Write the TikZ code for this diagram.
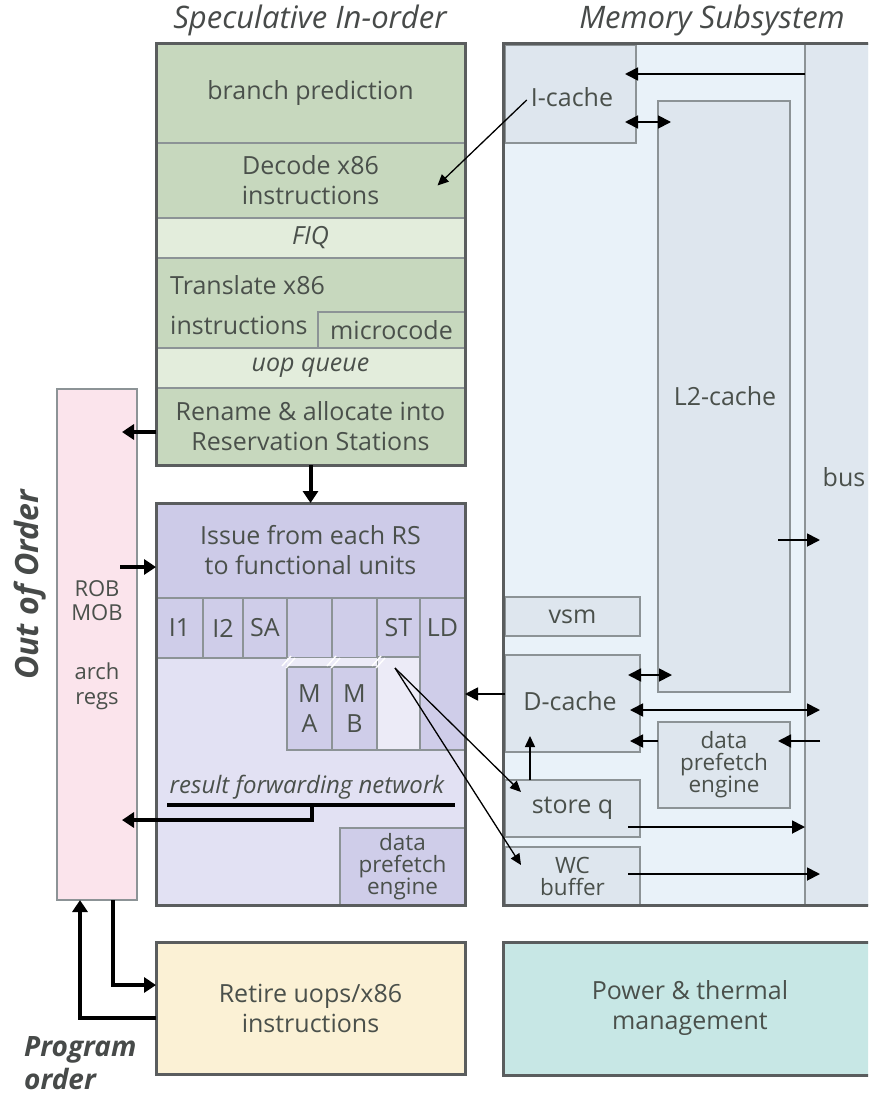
\documentclass[tikz,border=0pt]{standalone}
\usepackage{fontspec}
\setmainfont{Open Sans}
\usetikzlibrary{arrows.meta,calc}
\definecolor{grnA}{HTML}{C7D8BE}
\definecolor{grnB}{HTML}{E3EDDC}
\definecolor{purA}{HTML}{CDCBE8}
\definecolor{purB}{HTML}{E2E1F3}
\definecolor{purC}{HTML}{CFCDE9}
\definecolor{purD}{HTML}{ECEBF7}
\definecolor{pinkA}{HTML}{FBE4EC}
\definecolor{memA}{HTML}{E9F2F9}
\definecolor{memB}{HTML}{DEE6EE}
\definecolor{busC}{HTML}{DFE7EF}
\definecolor{retA}{HTML}{FBF1D5}
\definecolor{powA}{HTML}{C7E7E5}
\definecolor{dk}{HTML}{5A5D5E}
\definecolor{thinb}{HTML}{8C9396}
\definecolor{txt}{HTML}{4A504B}
\definecolor{ttlc}{HTML}{474A49}
\newcommand\rbox[7]{\node[#1,anchor=north west,minimum width={#4-#2},minimum height={#5-#3}] (#6) at (#2,#3) {#7};}
\tikzset{
  box/.style={draw=thinb,line width=1.2pt,inner sep=0pt,outer sep=0pt,font=\fontsize{25}{30}\selectfont,text=txt,align=center},
  outerb/.style={draw=dk,line width=3pt,inner sep=0pt,outer sep=0pt},
  lbl/.style={font=\fontsize{25}{30}\selectfont,text=txt,align=center,inner sep=0pt},
  smfont/.style={font=\fontsize{22.5}{22}\selectfont},
  ttl/.style={font=\fontsize{31}{36}\selectfont\itshape,text=ttlc,inner sep=0pt},
  thk/.style={line width=4pt,-{Triangle[length=12pt,width=15pt]}},
  thkl/.style={line width=4pt},
  marr/.style={line width=1.8pt,-{Triangle[length=13pt,width=13pt]}},
  mbi/.style={line width=1.8pt,{Triangle[length=13pt,width=13pt]}-{Triangle[length=13pt,width=13pt]}},
  tarr/.style={line width=1.3pt,-{Triangle[length=11pt,width=10pt]}},
}
\begin{document}
\begin{tikzpicture}[x=1pt,y=-1pt]
\useasboundingbox (0,0) rectangle (868,1099);
\fill[white] (0,0) rectangle (868,1099);
\clip (0,0) rectangle (868,1099);

% titles
\node[ttl] (t1) at (310,20) {Speculative In-order};
\node[ttl] (t2) at (712,20) {Memory Subsystem};

% ---------- speculative in-order (green) ----------
\rbox{box,fill=grnA}{156}{44}{465}{143}{bp}{branch prediction}
\rbox{box,fill=grnA}{156}{143}{465}{218}{dec}{Decode x86\\instructions}
\rbox{box,fill=grnB,font=\fontsize{25}{30}\selectfont\itshape}{156}{218}{465}{258}{fiq}{FIQ}
\rbox{box,fill=grnA}{156}{258}{465}{348}{trans}{}
\node[lbl,anchor=west] (tr1) at (170,285) {Translate x86};
\node[lbl,anchor=west] (tr2) at (170,325) {instructions};
\rbox{box,fill=grnA}{318}{312}{465}{348}{micro}{microcode}
\rbox{box,fill=grnB,font=\fontsize{25}{30}\selectfont\itshape}{156}{348}{465}{388}{uop}{uop queue}
\rbox{box,fill=grnA}{156}{388}{465}{465}{ren}{Rename \& allocate into\\Reservation Stations}
\rbox{outerb}{156}{44}{465}{465}{spec}{}

% ---------- out of order (purple) ----------
\rbox{box,fill=purB}{156}{598}{465}{905}{low}{}
\rbox{box,fill=purA}{156}{503}{465}{598}{iss}{Issue from each RS\\to functional units}
\rbox{box,fill=purC}{156}{598}{203}{658}{ione}{I1}
\rbox{box,fill=purC}{203}{598}{243}{658}{itwo}{I2}
\rbox{box,fill=purC}{243}{598}{287}{658}{sa}{SA}
\rbox{box,fill=purC}{287}{598}{332}{658}{mat}{}
\rbox{box,fill=purC}{332}{598}{377}{658}{mbt}{}
\rbox{box,fill=purC}{377}{598}{420}{657}{st}{ST}
\rbox{box,fill=purD}{377}{657}{420}{750}{stl}{}
\rbox{box,fill=purD,draw=none}{287}{658}{377}{667}{strip}{}
\rbox{box,fill=purC}{287}{667}{332}{750}{ma}{M\\A}
\rbox{box,fill=purC}{332}{667}{377}{750}{mb}{M\\B}
\rbox{box,fill=purC}{420}{598}{465}{750}{ld}{}
\node[lbl] (ldt) at (ld.north|-0,628) {LD};
\foreach \bx in {287,332,377}{
  \draw[white,line width=1.4pt] (\bx-5,666) -- (\bx+4,656);
  \draw[white,line width=1.4pt] (\bx-1,668) -- (\bx+8,658);
}
\rbox{box,fill=purC,smfont}{340}{828}{465}{905}{pdpe}{data\\prefetch\\engine}
\node[lbl,font=\fontsize{24}{28}\selectfont\itshape] (rfn) at (307,787) {result forwarding network};
\coordinate (rfnL) at (167,805);
\coordinate (rfnR) at (455,805);
\coordinate (rfnJ) at (312,805);
\rbox{outerb}{156}{503}{465}{905}{ooo}{}

% ---------- pink ROB ----------
\rbox{box,fill=pinkA}{57}{389}{137}{900}{pink}{}
\node[lbl,font=\fontsize{22}{24}\selectfont] (rob) at (97,601) {ROB\\MOB};
\node[lbl,font=\fontsize{22}{25}\selectfont] (arch) at (97,686) {arch\\regs};
\node[ttl,rotate=90,font=\fontsize{32}{36}\selectfont\bfseries\itshape] (oootxt) at (30,585) {Out of Order};

% ---------- memory subsystem ----------
\rbox{box,fill=memA,draw=none}{503}{44}{880}{905}{mem}{}
\rbox{box,fill=busC}{805}{44}{880}{905}{bus}{}
\node[lbl] (bust) at (844,477) {bus};
\rbox{box,fill=memB}{505}{45}{636}{143}{icache}{}
\node[lbl] (ict) at (572,97) {I-cache};
\rbox{box,fill=memB}{658}{101}{790}{692}{ltwo}{}
\node[lbl] (l2t) at (725,396) {L2-cache};
\rbox{box,fill=memB}{505}{597}{640}{636}{vsm}{vsm}
\rbox{box,fill=memB}{505}{655}{640}{752}{dcache}{}
\node[lbl] (dct) at (570,701) {D-cache};
\rbox{box,fill=memB,smfont}{658}{722}{790}{808}{mdpe}{data\\prefetch\\engine}
\rbox{box,fill=memB}{505}{780}{640}{837}{storeq}{store q}
\rbox{box,fill=memB,smfont}{505}{847}{640}{905}{wcb}{WC\\buffer}
\rbox{outerb}{503}{44}{880}{905}{memo}{}

% ---------- bottom ----------
\rbox{outerb,fill=retA,font=\fontsize{25}{30}\selectfont,text=txt,align=center}{156}{942}{465}{1074}{ret}{Retire uops/x86\\instructions}
\rbox{outerb,fill=powA}{503}{942}{880}{1075}{pow}{}
\node[lbl] (powt) at (690,1008) {Power \& thermal\\management};
\node[ttl,anchor=west,font=\fontsize{28}{34}\selectfont\bfseries\itshape] (po1) at (24,1050) {Program};
\node[ttl,anchor=west,font=\fontsize{28}{34}\selectfont\bfseries\itshape] (po2) at (24,1079) {order};

% ---------- connectors ----------
\draw[thk] (ren.south) -- (iss.north);
\draw[thk,shorten >=-15pt] (ren.west|-0,432) -- (pink.east|-0,432);
\draw[thk] ($(pink.east|-0,567)+(-17,0)$) -- (iss.west|-0,567);
\draw[thkl] (rfnL) -- (rfnR);
\draw[thk,shorten >=-15pt,line join=miter] (rfnJ) |- (pink.east|-0,820);
\draw[thk,line join=miter] (pink.south-|113,0) |- (ret.west|-0,985);
\draw[thk,line join=miter] (ret.west|-0,1018) -| (pink.south-|80,0);

\draw[marr,shorten >=-11pt] (bus.west|-0,74) -- (icache.east|-0,74);
\draw[mbi,shorten <=-11pt,shorten >=-13pt] (icache.east|-0,122) -- (ltwo.west|-0,122);
\draw[tarr] ($(ict.west)+(-4,3)$) -- ($(dec.center)+(127,5)$);
\draw[marr,shorten >=-15pt] ($(ltwo.east|-0,540)+(-12,0)$) -- (bus.west|-0,540);
\draw[mbi,shorten <=-12pt,shorten >=-14pt] (dcache.east|-0,675) -- (ltwo.west|-0,675);
\draw[mbi,shorten <=-10pt,shorten >=-15pt] (dcache.east|-0,710) -- (bus.west|-0,710);
\draw[marr,shorten >=-10pt] (mdpe.west|-0,741) -- (dcache.east|-0,741);
\draw[marr,shorten <=-15pt,shorten >=-12pt] (bus.west|-0,741) -- (mdpe.east|-0,741);
\draw[tarr,line width=1.5pt] (storeq.north-|530,0) -- ($(dcache.south-|530,0)+(0,-16)$);
\draw[marr] ($(storeq.east|-0,827)+(-12,0)$) -- (bus.west|-0,827);
\draw[marr,shorten >=-15pt] ($(wcb.east|-0,874)+(-12,0)$) -- (bus.west|-0,874);
\draw[marr] (dcache.west|-0,694) -- (ld.east|-0,694);
\coordinate (stout) at (395,668);
\draw[tarr] (stout) -- ($(storeq.north west)+(16,12)$);
\draw[tarr] (stout) -- ($(wcb.north west)+(16,18)$);
\end{tikzpicture}
\end{document}
